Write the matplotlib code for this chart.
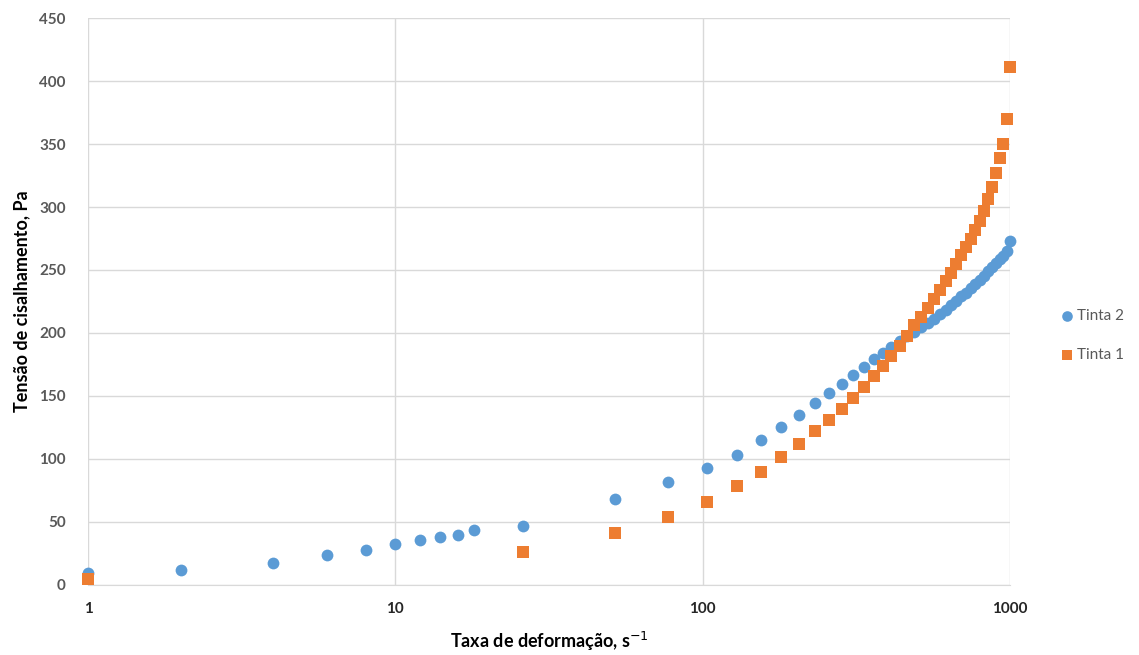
import numpy as np
import matplotlib
matplotlib.use('Agg')
import matplotlib.pyplot as plt
from matplotlib.ticker import FixedLocator, NullLocator

# shear rate (s^-1) and shear stress (Pa)
taxa_tinta2 = [1, 2, 4, 6, 8, 10, 12, 14, 16, 18,
               26, 52, 77, 103, 129, 155, 180, 206, 232, 257,
               283, 309, 334, 360, 386, 411, 437, 463, 488, 514,
               540, 565, 591, 617, 642, 668, 694, 719, 745, 771,
               796, 822, 848, 873, 899, 925, 950, 974, 1000]
tensao_tinta2 = [9.5, 11.5, 17.5, 23.5, 27.5, 32.5, 35.5, 38, 40, 44,
                 46.5, 68.5, 81.5, 93, 103, 115, 125, 135, 144.5, 152.5,
                 159.5, 167, 173, 179, 184, 189, 193.5, 197.5, 201, 204.5,
                 208, 211.5, 215, 218.5, 222, 225.5, 229, 232, 235.5, 239,
                 242, 245.5, 249, 252, 255.5, 258.5, 261, 265, 273]

taxa_tinta1 = [1,
               26, 52, 77, 103, 129, 155, 180, 206, 232, 257,
               283, 309, 334, 360, 386, 411, 437, 463, 488, 514,
               540, 565, 591, 617, 642, 668, 694, 719, 745, 771,
               796, 822, 848, 873, 899, 925, 950, 974, 1000]
tensao_tinta1 = [5,
                 26, 41, 54, 66, 78.5, 90, 101.5, 112, 122, 131,
                 140, 148.5, 157, 165.5, 174, 182, 190, 198, 206, 213,
                 220, 227, 234, 241, 248, 255, 262, 268.5, 275, 282,
                 289, 297, 306, 316, 327, 339, 350, 370, 411.5]

x_ticks = [1, 10, 100, 1000]
x_labels = ['1', '10', '100', '1000']
y_ticks = list(range(0, 451, 50))

plt.rcParams['font.family'] = ['Lato', 'DejaVu Sans']

fig = plt.figure(figsize=(11.39, 6.55), dpi=100)
ax = fig.add_axes([0.0773, 0.1069, 0.8095, 0.8656])

ax.scatter(taxa_tinta2, tensao_tinta2, s=72, marker='o', color='#5B9BD5',
           linewidths=0, label='Tinta 2', zorder=3, clip_on=False)
ax.scatter(taxa_tinta1, tensao_tinta1, s=70, marker='s', color='#ED7D31',
           linewidths=0, label='Tinta 1', zorder=4, clip_on=False)

ax.set_xscale('log')
ax.set_xlim(1, 1000)
ax.set_ylim(0, 450)
ax.xaxis.set_major_locator(FixedLocator(x_ticks))
ax.xaxis.set_minor_locator(NullLocator())
ax.set_xticklabels(x_labels, fontsize=11, fontweight='bold', color='#262626')
ax.set_yticks(y_ticks)
ax.set_yticklabels([str(v) for v in y_ticks], fontsize=11, fontweight='bold', color='#595959')
ax.tick_params(axis='both', length=0)
ax.tick_params(axis='x', pad=12)
ax.tick_params(axis='y', pad=16)

ax.grid(True, color='#d9d9d9', linewidth=1)
ax.set_axisbelow(True)
for side in ['top', 'right', 'left']:
    ax.spines[side].set_visible(False)
ax.spines['bottom'].set_color('#d9d9d9')

ax.set_xlabel('Taxa de deformação, s$^{-1}$', fontsize=13, fontweight='bold', labelpad=10)
ax.set_ylabel('Tensão de cisalhamento, Pa', fontsize=13, fontweight='bold', labelpad=6)

leg = ax.legend(loc='center left', bbox_to_anchor=(1.053, 0.44), frameon=False,
                fontsize=11, handlelength=1.0, handletextpad=0.2, borderpad=0,
                borderaxespad=0, labelspacing=1.6, markerscale=0.9)
for t in leg.get_texts():
    t.set_color('#595959')

fig.savefig('out.png', dpi=100)
